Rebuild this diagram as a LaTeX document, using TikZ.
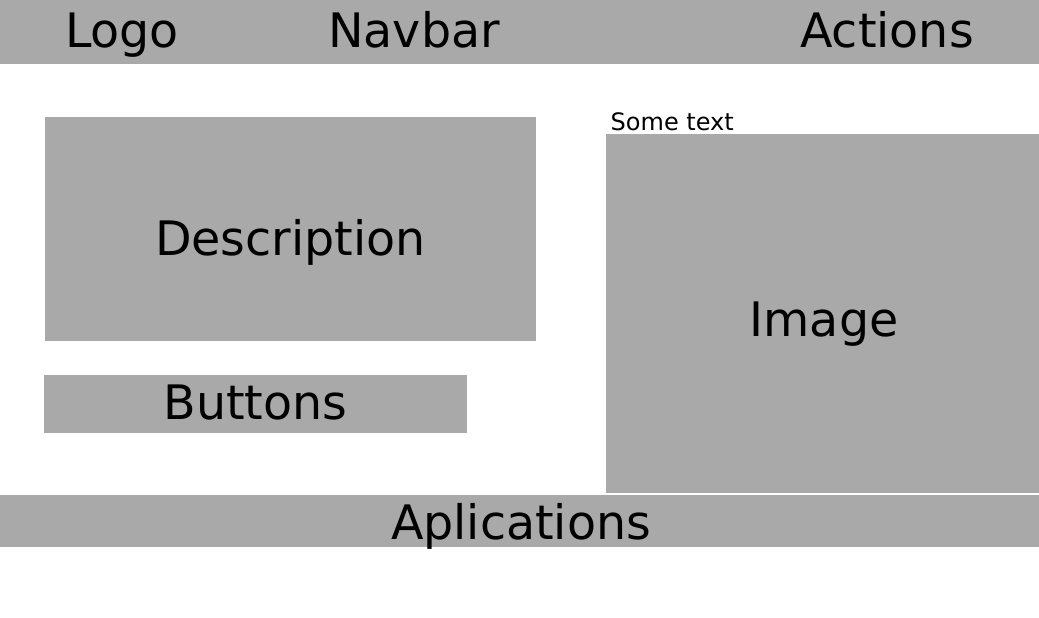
\documentclass[tikz,border=0pt]{standalone}
\usepackage{fontspec}
\setmainfont{DejaVu Sans}
\definecolor{boxgray}{RGB}{169,169,169}
\begin{document}
\begin{tikzpicture}[x=1pt,y=-1pt,
  box/.style={fill=boxgray, draw=none, inner sep=0pt, anchor=north west},
  big/.style={anchor=base, inner sep=0pt, font=\fontsize{47.5}{57}\selectfont},
  small/.style={anchor=base west, inner sep=0pt, font=\fontsize{24}{29}\selectfont}]
\useasboundingbox (0,0) rectangle (1039,618);
% boxes
\node[box, minimum width=1039pt, minimum height=64pt] (top) at (0,0) {};
\node[box, minimum width=491pt, minimum height=224pt] (desc) at (45,117) {};
\node[box, minimum width=423pt, minimum height=58pt] (btn) at (44,375) {};
\node[box, minimum width=433pt, minimum height=358.5pt] (img) at (606,134) {};
\node[box, minimum width=1039pt, minimum height=52pt] (apps) at (0,495) {};
% texts
\node[big] (logo) at (122,47.7) {Logo};
\node[big] (nav) at (414,47.7) {Navbar};
\node[big] (act) at (887,47.7) {Actions};
\node[big] (desct) at (290.3,255.7) {Description};
\node[big] (btnt) at (255.5,419.3) {Buttons};
\node[big] (imgt) at (824,336.7) {Image};
\node[big] (appst) at (521,539.3) {Aplications};
\node[small] (some) at (610.5,130.7) {Some text};
\end{tikzpicture}
\end{document}
